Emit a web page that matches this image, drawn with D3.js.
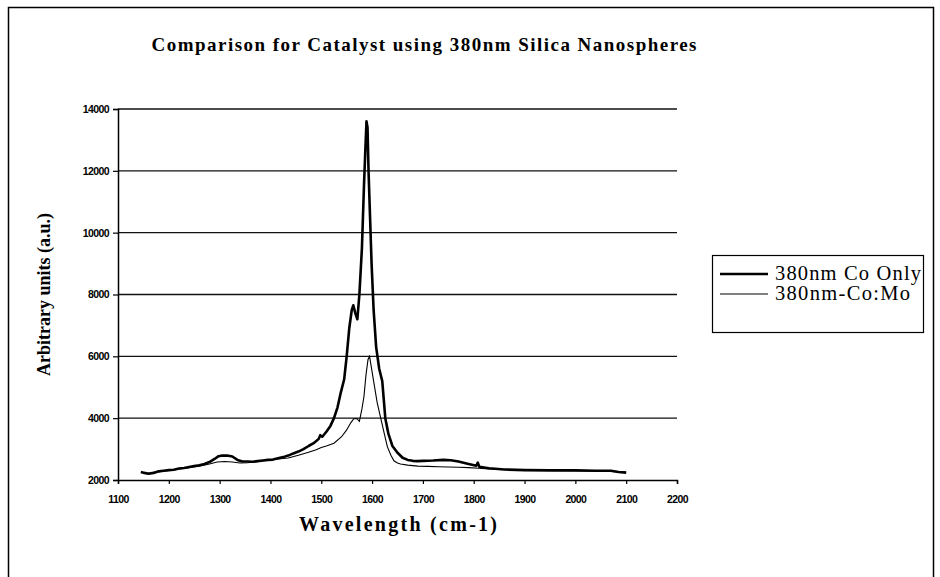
<!DOCTYPE html>
<html>
<head>
<meta charset="utf-8">
<script src="https://cdn.jsdelivr.net/npm/d3@7"></script>
<style>
  body { margin: 0; background: #fff; }
  svg { display: block; }
</style>
</head>
<body>
<svg id="chart" width="940" height="577"></svg>
<script>
// Raman spectra: [wavenumber, intensity]
const coOnly = [
  [1145, 2260], [1152, 2230], [1160, 2200], [1170, 2230], [1180, 2280], [1190, 2300],
  [1200, 2320], [1210, 2330], [1220, 2370], [1230, 2390], [1240, 2420], [1250, 2450],
  [1260, 2480], [1270, 2520], [1280, 2580], [1290, 2680], [1298, 2770], [1305, 2790],
  [1315, 2790], [1325, 2760], [1335, 2650], [1345, 2600], [1355, 2600], [1365, 2590],
  [1375, 2610], [1385, 2630], [1395, 2650], [1405, 2660], [1415, 2700], [1425, 2740],
  [1435, 2790], [1445, 2860], [1455, 2920], [1465, 3000], [1475, 3100], [1485, 3190],
  [1495, 3330], [1498, 3450], [1502, 3400], [1510, 3560], [1518, 3750], [1525, 4000],
  [1532, 4350], [1538, 4800], [1545, 5250], [1550, 6000], [1555, 6900], [1560, 7500],
  [1563, 7650], [1567, 7400], [1571, 7200], [1575, 8000], [1580, 9500], [1584, 11500],
  [1587, 12800], [1589, 13600], [1591, 13400], [1593, 12000], [1596, 10500], [1599, 9000],
  [1603, 7500], [1608, 6300], [1614, 5600], [1620, 5200], [1626, 4000], [1632, 3500],
  [1640, 3100], [1650, 2880], [1660, 2720], [1670, 2650], [1680, 2620], [1690, 2610],
  [1700, 2620], [1720, 2630], [1740, 2650], [1755, 2640], [1770, 2600], [1790, 2520],
  [1805, 2460], [1808, 2560], [1811, 2430], [1830, 2380], [1860, 2340], [1900, 2320],
  [1950, 2310], [2000, 2310], [2040, 2300], [2070, 2300], [2085, 2260], [2100, 2240]
];

const coMo = [
  [1145, 2250], [1160, 2220], [1180, 2270], [1200, 2310], [1220, 2360], [1240, 2400],
  [1260, 2450], [1280, 2520], [1295, 2580], [1310, 2600], [1325, 2580], [1340, 2550],
  [1355, 2560], [1375, 2600], [1395, 2640], [1415, 2680], [1435, 2710], [1455, 2800],
  [1475, 2900], [1490, 2980], [1500, 3050], [1510, 3100], [1525, 3190], [1540, 3400],
  [1550, 3620], [1558, 3850], [1564, 3980], [1570, 3990], [1575, 3900], [1580, 4300],
  [1584, 4700], [1588, 5400], [1592, 5900], [1595, 6000], [1598, 5700], [1603, 5200],
  [1610, 4500], [1617, 4000], [1624, 3500], [1630, 3080], [1637, 2800], [1643, 2620],
  [1650, 2550], [1656, 2520], [1670, 2480], [1690, 2450], [1710, 2440], [1730, 2430],
  [1750, 2420], [1770, 2410], [1790, 2400], [1810, 2380], [1830, 2360], [1860, 2340],
  [1900, 2320], [1950, 2310], [2000, 2300], [2050, 2290], [2100, 2250]
];

const xTicks = [1100, 1200, 1300, 1400, 1500, 1600, 1700, 1800, 1900, 2000, 2100, 2200];
const yTicks = [2000, 4000, 6000, 8000, 10000, 12000, 14000];
const seriesNames = ['380nm Co Only', '380nm-Co:Mo'];

const svg = d3.select('#chart');

// outer chart frame
svg.append('rect')
  .attr('x', 8.5).attr('y', 7.5)
  .attr('width', 925).attr('height', 600)
  .attr('fill', 'none').attr('stroke', '#000').attr('stroke-width', 1.5);

const x = d3.scaleLinear().domain([1100, 2200]).range([118, 677]);
const y = d3.scaleLinear().domain([2000, 14000]).range([480, 109]);

// horizontal gridlines
svg.append('g')
  .selectAll('line')
  .data(yTicks.slice(1))
  .enter()
  .append('line')
  .attr('x1', x(1100)).attr('x2', x(2200))
  .attr('y1', d => y(d)).attr('y2', d => y(d))
  .attr('stroke', '#111').attr('stroke-width', 1.3);

const xAxis = svg.append('g')
  .attr('transform', `translate(0,${y(2000)})`)
  .call(d3.axisBottom(x).tickValues(xTicks).tickSize(4).tickPadding(12).tickFormat(d3.format('d')));

const yAxis = svg.append('g')
  .attr('transform', `translate(${x(1100)},0)`)
  .call(d3.axisLeft(y).tickValues(yTicks).tickSize(5).tickPadding(4).tickFormat(d3.format('d')));

[xAxis, yAxis].forEach(a => {
  a.select('.domain').attr('stroke', '#000').attr('stroke-width', 1.5);
  a.selectAll('.tick line').attr('stroke', '#000').attr('stroke-width', 1.2);
  a.selectAll('.tick text')
    .attr('fill', '#000')
    .style('font-family', '"Liberation Sans", Arial, sans-serif')
    .style('font-size', '10.5px')
    .style('font-weight', 'bold')
    .style('letter-spacing', '-0.6px');
});

const line = d3.line()
  .x(d => x(d[0]))
  .y(d => y(d[1]));

svg.append('path')
  .datum(coMo)
  .attr('d', line)
  .attr('fill', 'none').attr('stroke', '#000').attr('stroke-width', 1.1);

svg.append('path')
  .datum(coOnly)
  .attr('d', line)
  .attr('fill', 'none').attr('stroke', '#000').attr('stroke-width', 2.6)
  .attr('stroke-linejoin', 'round');

// titles
svg.append('text')
  .attr('x', 424).attr('y', 51)
  .attr('text-anchor', 'middle')
  .attr('textLength', 545).attr('lengthAdjust', 'spacing')
  .style('font-family', '"Liberation Serif", "Times New Roman", serif')
  .style('font-weight', 'bold').style('font-size', '19px')
  .text('Comparison for Catalyst using 380nm Silica Nanospheres');

svg.append('text')
  .attr('x', 398).attr('y', 531)
  .attr('text-anchor', 'middle')
  .attr('textLength', 198).attr('lengthAdjust', 'spacing')
  .style('font-family', '"Liberation Serif", "Times New Roman", serif')
  .style('font-weight', 'bold').style('font-size', '20px')
  .text('Wavelength (cm-1)');

svg.append('text')
  .attr('transform', `translate(50,${(y(2000) + y(14000)) / 2}) rotate(-90)`)
  .attr('text-anchor', 'middle')
  .style('font-family', '"Liberation Serif", "Times New Roman", serif')
  .style('font-weight', 'bold').style('font-size', '18px')
  .text('Arbitrary units (a.u.)');

// legend
const legend = svg.append('g');
legend.append('rect')
  .attr('x', 712.5).attr('y', 255.5).attr('width', 211).attr('height', 77)
  .attr('fill', '#fff').attr('stroke', '#000').attr('stroke-width', 1.2);

const legendRows = legend.selectAll('g.row')
  .data(seriesNames)
  .enter()
  .append('g')
  .attr('class', 'row')
  .attr('transform', (d, i) => `translate(0,${274 + i * 20})`);

legendRows.append('line')
  .attr('x1', 720).attr('x2', 768)
  .attr('stroke', '#000')
  .attr('stroke-width', (d, i) => i === 0 ? 2.6 : 1.1);

legendRows.append('text')
  .attr('x', 775).attr('y', 6)
  .attr('textLength', (d, i) => i === 0 ? 146 : 135).attr('lengthAdjust', 'spacing')
  .style('font-family', '"Liberation Serif", "Times New Roman", serif')
  .style('font-size', '20.5px')
  .text(d => d);
</script>
</body>
</html>
